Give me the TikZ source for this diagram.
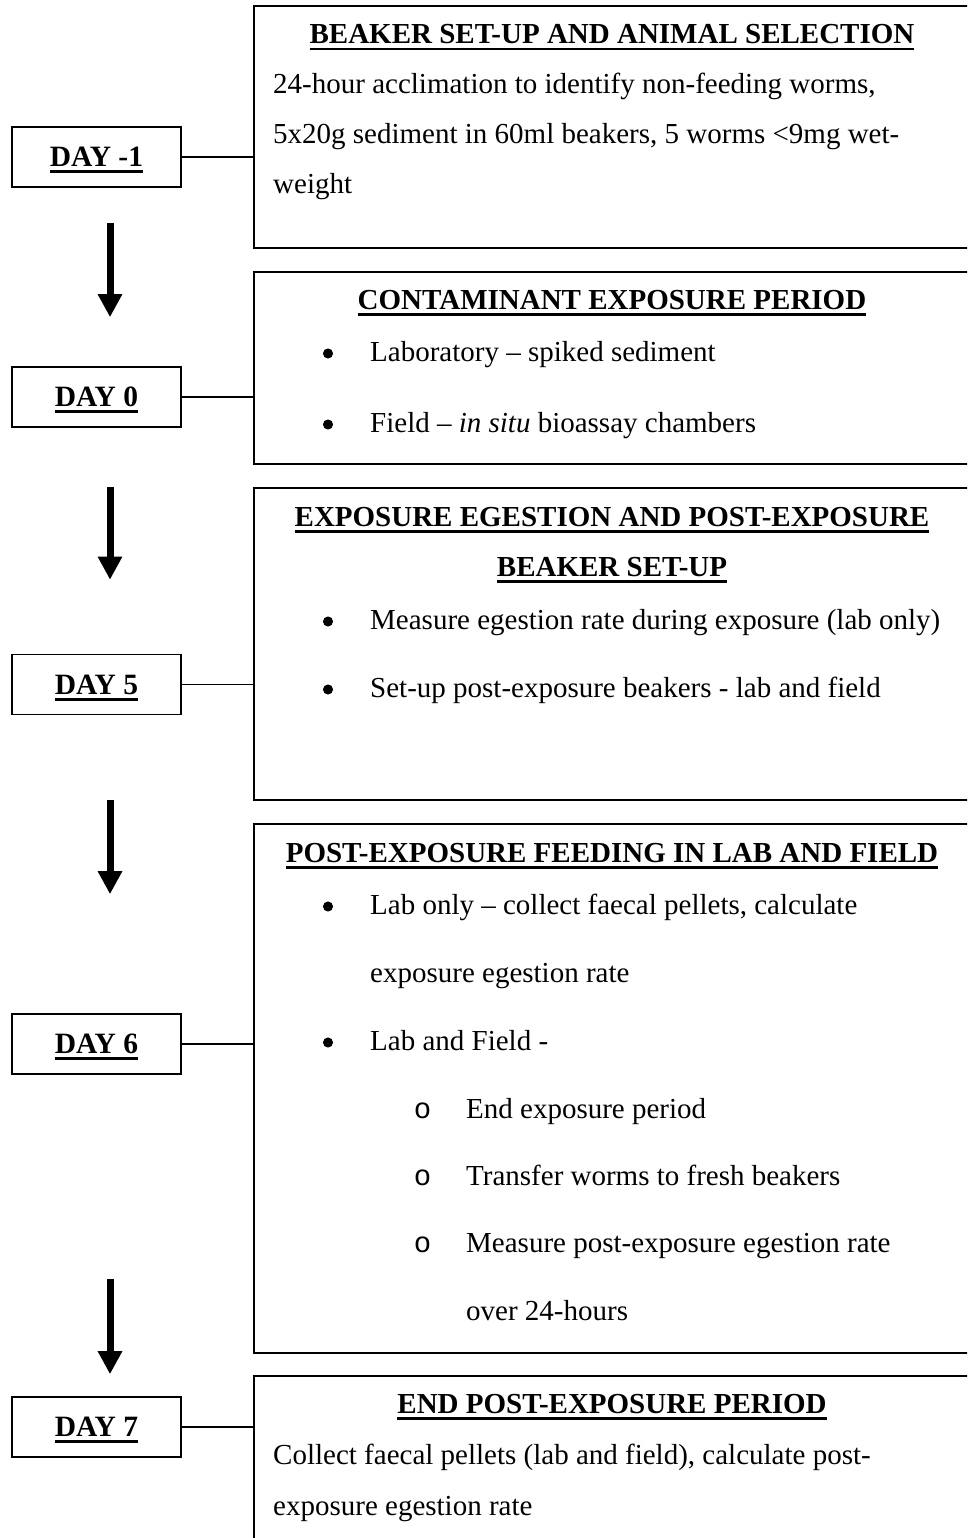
\documentclass[tikz,border=0pt]{standalone}
\usepackage{fontspec}
\setmainfont{Liberation Serif}
\setmonofont{Liberation Mono}
\usetikzlibrary{arrows.meta}
\newcommand{\hdul}[1]{\leavevmode\setbox0=\hbox{#1}\rlap{\copy0}\smash{\rule[-6.5pt]{\wd0}{2.8pt}}}
\begin{document}
\begin{tikzpicture}[
  x=1pt, y=-1pt,
  every node/.style={font=\fontsize{29}{34}\selectfont},
  day/.style={rectangle, draw=black, line width=1.6pt, minimum width=169pt,
              minimum height=60pt, inner sep=0pt, font=\fontsize{29.5}{34}\selectfont\bfseries},
  panel/.style={rectangle, draw=black, line width=2pt, minimum width=718pt,
                inner sep=0pt, anchor=north west},
  head/.style={anchor=base, inner sep=0pt, font=\fontsize{29}{34}\selectfont\bfseries},
  body/.style={anchor=base west, inner sep=0pt},
  dot/.style={circle, draw=black, fill=black, line width=1pt, inner sep=0pt, minimum size=9pt},
  sub/.style={anchor=base, inner sep=0pt, font=\fontsize{29}{34}\selectfont\ttfamily},
  link/.style={line width=1.6pt, draw=black},
  flow/.style={-{Triangle[width=23pt,length=23pt]}, line width=7pt, draw=black}
]
\useasboundingbox (0,0) rectangle (967,1538);
\clip (0,0) rectangle (967,1538);

\node[day] (dm1) at (96.5,157)  {\hdul{DAY -1}};
\node[day] (d0)  at (96.5,397)  {\hdul{DAY 0}};
\node[day] (d5)  at (96.5,684.5) {\hdul{DAY 5}};
\node[day] (d6)  at (96.5,1044) {\hdul{DAY 6}};
\node[day] (d7)  at (96.5,1427) {\hdul{DAY 7}};

\node[panel, minimum height=242pt] (p1) at (253,5)    {};
\node[panel, minimum height=192pt] (p2) at (253,271)  {};
\node[panel, minimum height=312pt] (p3) at (253,487)  {};
\node[panel, minimum height=529pt] (p4) at (253,823)  {};
\node[panel, minimum height=200pt] (p5) at (253,1375) {};

\node[head] (h1) at (612,44) {\hdul{BEAKER SET-UP AND ANIMAL SELECTION}};
\node[body] (t1a) at (273,94)  {24-hour acclimation to identify non-feeding worms,};
\node[body] (t1b) at (273,144) {5x20g sediment in 60ml beakers, 5 worms <9mg wet-};
\node[body] (t1c) at (273,194) {weight};

\node[head] (h2) at (612,309) {\hdul{CONTAMINANT EXPOSURE PERIOD}};
\node[dot]  (u2a) at (328,353.5) {};
\node[body] (t2a) at (370,361) {Laboratory – spiked sediment};
\node[dot]  (u2b) at (328,424.5) {};
\node[body] (t2b) at (370,432) {Field – \textit{in situ} bioassay chambers};

\node[head] (h3a) at (612,526) {\hdul{EXPOSURE EGESTION AND POST-EXPOSURE}};
\node[head] (h3b) at (612,576) {\hdul{BEAKER SET-UP}};
\node[dot]  (u3a) at (328,621.5) {};
\node[body] (t3a) at (370,629) {Measure egestion rate during exposure (lab only)};
\node[dot]  (u3b) at (328,689.5) {};
\node[body] (t3b) at (370,697) {Set-up post-exposure beakers - lab and field};

\node[head] (h4) at (612,862) {\hdul{POST-EXPOSURE FEEDING IN LAB AND FIELD}};
\node[dot]  (u4a) at (328,906.5)  {};
\node[body] (t4a) at (370,914)  {Lab only – collect faecal pellets, calculate};
\node[body] (t4b) at (370,982)  {exposure egestion rate};
\node[dot]  (u4c) at (328,1042.5) {};
\node[body] (t4c) at (370,1050) {Lab and Field -};
\node[sub]  (s4d) at (422.5,1118) {o};
\node[body] (t4d) at (466,1118) {End exposure period};
\node[sub]  (s4e) at (422.5,1185) {o};
\node[body] (t4e) at (466,1185) {Transfer worms to fresh beakers};
\node[sub]  (s4f) at (422.5,1252) {o};
\node[body] (t4f) at (466,1252) {Measure post-exposure egestion rate};
\node[body] (t4g) at (466,1320) {over 24-hours};

\node[head] (h5) at (612,1413) {\hdul{END POST-EXPOSURE PERIOD}};
\node[body] (t5a) at (273,1464) {Collect faecal pellets (lab and field), calculate post-};
\node[body] (t5b) at (273,1515) {exposure egestion rate};

\draw[link] (dm1.east) -- (dm1.east -| p1.west);
\draw[link] (d0.east)  -- (d0.east -| p2.west);
\draw[link] (d5.east)  -- (d5.east -| p3.west);
\draw[link] (d6.east)  -- (d6.east -| p4.west);
\draw[link] (d7.east)  -- (d7.east -| p5.west);

\draw[flow, shorten <=35pt, shorten >=49pt]  ([xshift=13.5pt]dm1.south) -- ([xshift=13.5pt]d0.north);
\draw[flow, shorten <=59pt, shorten >=74pt]  ([xshift=13.5pt]d0.south)  -- ([xshift=13.5pt]d5.north);
\draw[flow, shorten <=85pt, shorten >=119pt] ([xshift=13.5pt]d5.south)  -- ([xshift=13.5pt]d6.north);
\draw[flow, shorten <=204pt, shorten >=22pt] ([xshift=13.5pt]d6.south)  -- ([xshift=13.5pt]d7.north);
\end{tikzpicture}
\end{document}
